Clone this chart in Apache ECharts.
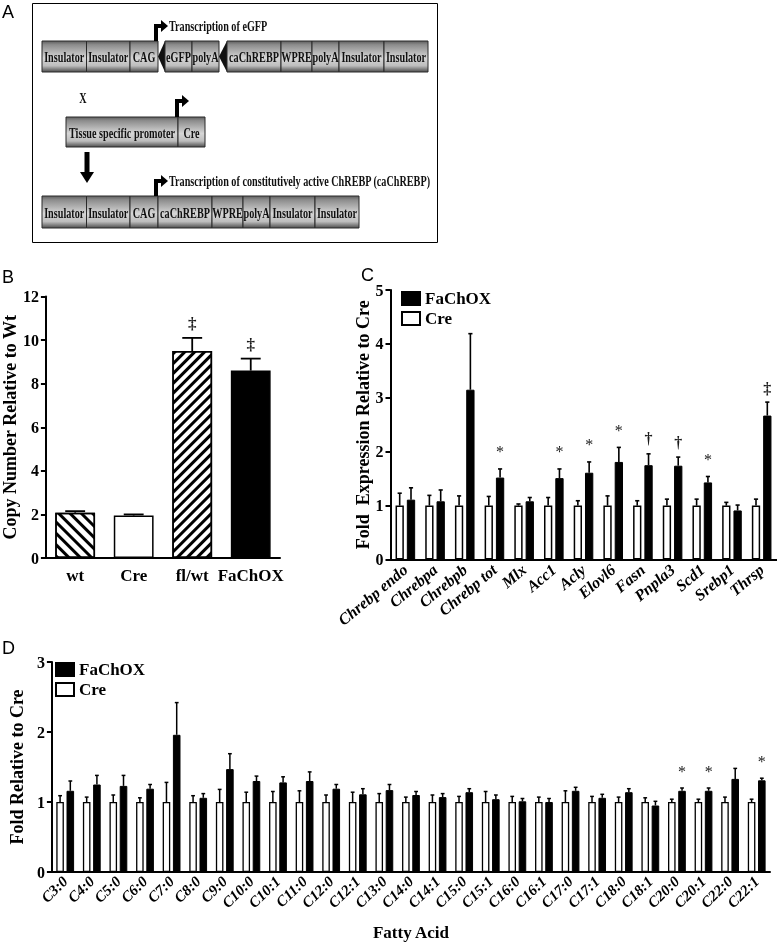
<!DOCTYPE html>
<html>
<head>
<meta charset="utf-8">
<script src="https://cdn.jsdelivr.net/npm/echarts@6/dist/echarts.min.js"></script>
<style>
html,body{margin:0;padding:0;background:#fff;}
#chart{width:777px;height:948px;will-change:transform;}
</style>
</head>
<body>
<div id="chart"></div>
<script>
// ---------------- DATA ----------------
// Panel B: copy number relative to wt
const bGroups = ['wt', 'Cre', 'fl/wt', 'FaChOX'];
const bMean   = [2.08, 1.95, 9.5, 8.6];
const bUpper  = [2.15, 2.0, 10.1, 9.15];   // mean + SEM
const bSig    = ['', '', '‡', '‡'];

// Panel C: fold expression relative to Cre
const cGenes = ['Chrebp endo', 'Chrebpa', 'Chrebpb', 'Chrebp tot', 'Mlx', 'Acc1', 'Acly',
                'Elovl6', 'Fasn', 'Pnpla3', 'Scd1', 'Srebp1', 'Thrsp'];
const cCreMean  = [1, 1, 1, 1, 1, 1, 1, 1, 1, 1, 1, 1, 1];
const cCreUpper = [1.23, 1.19, 1.18, 1.17, 1.03, 1.15, 1.09, 1.18, 1.09, 1.12, 1.12, 1.06, 1.12];
const cFaMean   = [1.11, 1.08, 3.15, 1.52, 1.08, 1.51, 1.61, 1.81, 1.75, 1.74, 1.43, 0.91, 2.67];
const cFaUpper  = [1.33, 1.29, 4.19, 1.68, 1.15, 1.68, 1.81, 2.08, 1.96, 1.90, 1.54, 1.01, 2.92];
const cSig      = ['', '', '', '*', '', '*', '*', '*', '†', '†', '*', '', '‡'];

// Panel D: fatty acids, fold relative to Cre
const dAcids = ['C3:0', 'C4:0', 'C5:0', 'C6:0', 'C7:0', 'C8:0', 'C9:0', 'C10:0', 'C10:1', 'C11:0',
                'C12:0', 'C12:1', 'C13:0', 'C14:0', 'C14:1', 'C15:0', 'C15:1', 'C16:0', 'C16:1',
                'C17:0', 'C17:1', 'C18:0', 'C18:1', 'C20:0', 'C20:1', 'C22:0', 'C22:1'];
const dCreMean  = [1, 1, 1, 1, 1, 1, 1, 1, 1, 1, 1, 1, 1, 1, 1, 1, 1, 1, 1, 1, 1, 1, 1, 1, 1, 1, 1];
const dCreUpper = [1.09, 1.07, 1.10, 1.06, 1.28, 1.09, 1.18, 1.14, 1.15, 1.16, 1.10, 1.14, 1.12, 1.07,
                   1.10, 1.08, 1.15, 1.08, 1.07, 1.16, 1.08, 1.07, 1.06, 1.04, 1.04, 1.07, 1.04];
const dFaMean   = [1.16, 1.25, 1.23, 1.19, 1.96, 1.06, 1.47, 1.30, 1.28, 1.30, 1.19, 1.11, 1.17, 1.10,
                   1.07, 1.14, 1.04, 1.01, 1.00, 1.16, 1.06, 1.14, 0.95, 1.16, 1.16, 1.33, 1.31];
const dFaUpper  = [1.30, 1.38, 1.38, 1.25, 2.42, 1.12, 1.69, 1.37, 1.36, 1.43, 1.25, 1.19, 1.25, 1.15,
                   1.12, 1.19, 1.10, 1.05, 1.05, 1.21, 1.11, 1.19, 1.01, 1.20, 1.20, 1.48, 1.34];
const dSig      = ['', '', '', '', '', '', '', '', '', '', '', '', '', '', '', '', '', '', '', '', '', '', '',
                   '*', '*', '', '*'];

// Panel A schematic labels
const rowTopLabels = ['Insulator', 'Insulator', 'CAG', '◀', 'eGFP', 'polyA', '◀', 'caChREBP', 'WPRE', 'polyA', 'Insulator', 'Insulator'];
const rowMidLabels = ['Tissue specific promoter', 'Cre'];
const rowBotLabels = ['Insulator', 'Insulator', 'CAG', 'caChREBP', 'WPRE', 'polyA', 'Insulator', 'Insulator'];

// ---------------- STYLE / LAYOUT ----------------
const SERIF = "'Liberation Serif','Times New Roman',serif";
const SANS = "'Liberation Sans',Arial,sans-serif";
const rowTopWidths = [44.5, 43.5, 28, 7, 27, 27, 8, 54, 31, 27, 45, 44];
const rowMidWidths = [112, 27];
const rowBotWidths = [44.5, 43.5, 28, 54, 31, 27, 45, 44];

const chart = echarts.init(document.getElementById('chart'), null, {renderer: 'svg'});

function segGradient() {
  return new echarts.graphic.LinearGradient(0, 0, 0, 1, [
    {offset: 0, color: '#5e5e5e'},
    {offset: 0.12, color: '#8c8c8c'},
    {offset: 0.55, color: '#d6d6d6'},
    {offset: 0.8, color: '#bdbdbd'},
    {offset: 1, color: '#4d4d4d'}
  ]);
}
function buildRow(x0, y, h, labels, widths) {
  const els = [];
  let x = x0;
  labels.forEach((lab, i) => {
    const w = widths[i];
    if (lab === '◀') {
      els.push({type: 'polygon', shape: {points: [[x, y + h / 2], [x + w, y], [x + w, y + h]]},
        style: {fill: '#111'}});
    } else {
      els.push({type: 'rect', shape: {x: x, y: y, width: w, height: h},
        style: {fill: segGradient(), stroke: '#2a2a2a', lineWidth: 1}});
      els.push({type: 'text', x: x + w / 2, y: y + h / 2 + 1, scaleX: 0.68,
        style: {text: lab, font: 'bold 15px ' + SERIF, fill: '#111', align: 'center', verticalAlign: 'middle'}, z: 10});
    }
    x += w;
  });
  return els;
}
function bentArrow(x, yBase, yTop) {
  return [
    {type: 'polyline', shape: {points: [[x, yBase], [x, yTop], [x + 5, yTop]]},
      style: {stroke: '#000', lineWidth: 4, fill: null}},
    {type: 'polygon', shape: {points: [[x + 5, yTop - 6], [x + 12, yTop], [x + 5, yTop + 6]]},
      style: {fill: '#000'}}
  ];
}
const aText = (t, x, y, align) => ({type: 'text', x: x, y: y, scaleX: 0.68,
  style: {text: t, font: 'bold 15px ' + SERIF, fill: '#111', align: align || 'left', verticalAlign: 'middle'}});

const graphicEls = [].concat(
  [{type: 'rect', shape: {x: 32.5, y: 3.5, width: 405, height: 239}, style: {fill: null, stroke: '#000', lineWidth: 1}}],
  buildRow(42, 41, 31, rowTopLabels, rowTopWidths),
  bentArrow(156, 41, 26),
  [aText('Transcription of eGFP', 169, 26)],
  [aText('X', 83, 98, 'center')],
  buildRow(66, 117, 30, rowMidLabels, rowMidWidths),
  bentArrow(177, 117, 101),
  [{type: 'polyline', shape: {points: [[87, 152], [87, 173]]}, style: {stroke: '#000', lineWidth: 5}},
   {type: 'polygon', shape: {points: [[80, 172], [94, 172], [87, 183]]}, style: {fill: '#000'}}],
  buildRow(42, 196, 32, rowBotLabels, rowBotWidths),
  bentArrow(156, 196, 181),
  [aText('Transcription of constitutively active ChREBP (caChREBP)', 169, 181)],
  [
    {type: 'text', x: 2, y: 12, style: {text: 'A', font: '18px ' + SANS, fill: '#000', verticalAlign: 'middle'}},
    {type: 'text', x: 2, y: 277, style: {text: 'B', font: '18px ' + SANS, fill: '#000', verticalAlign: 'middle'}},
    {type: 'text', x: 361, y: 275, style: {text: 'C', font: '18px ' + SANS, fill: '#000', verticalAlign: 'middle'}},
    {type: 'text', x: 2, y: 648, style: {text: 'D', font: '18px ' + SANS, fill: '#000', verticalAlign: 'middle'}}
  ]
);

const markLift = {'*': 17, '†': 15, '‡': 14};

function errSeries(axisIdx, cats, mean, upper, sig, shift, barFrac, gapFrac, lw, fs) {
  return {
    type: 'custom', xAxisIndex: axisIdx, yAxisIndex: axisIdx, z: 5, silent: true,
    itemStyle: {color: '#000'},
    data: cats.map((c, i) => [i, mean[i], upper[i]]),
    encode: {x: 0, y: [1, 2]},
    renderItem: function (params, api) {
      const i = api.value(0), m = api.value(1), u = api.value(2);
      const p = api.coord([i, m]), q = api.coord([i, u]);
      const band = api.size([1, 0])[0];
      const bw = band * barFrac, gap = bw * gapFrac;
      const cx = p[0] + shift * (bw + gap) / 2;
      const half = bw * 0.25;
      const ls = {stroke: '#000', lineWidth: lw};
      const children = [
        {type: 'line', shape: {x1: cx, y1: p[1], x2: cx, y2: q[1]}, style: ls},
        {type: 'line', shape: {x1: cx - half, y1: q[1], x2: cx + half, y2: q[1]}, style: ls}
      ];
      const s = sig[params.dataIndex];
      if (s) {
        children.push({type: 'text', x: cx, y: q[1] - markLift[s],
          style: {text: s, fill: '#1a1a1a',
                  font: (s === '*' ? '' : 'bold ') + fs + 'px ' + SERIF, align: 'center', verticalAlign: 'middle'}});
      }
      return {type: 'group', children: children};
    }
  };
}

const axisLineStyle = {color: '#000', width: 2};
const tickLabel = {color: '#000', fontFamily: SERIF, fontWeight: 'bold', fontSize: 16};
function yAxisCfg(idx, max, interval, name, gap) {
  return {
    gridIndex: idx, type: 'value', min: 0, max: max, interval: interval,
    axisLine: {show: true, lineStyle: axisLineStyle},
    axisTick: {show: true, length: 5, lineStyle: {color: '#000', width: 2}},
    splitLine: {show: false},
    axisLabel: Object.assign({margin: 7}, tickLabel),
    name: name, nameLocation: 'middle', nameGap: gap,
    nameTextStyle: {color: '#000', fontFamily: SERIF, fontWeight: 'bold', fontSize: 18}
  };
}

const bStyles = [
  {color: '#fff', borderColor: '#000', borderWidth: 1.5,
   decal: {symbol: 'rect', symbolSize: 1, color: '#000', dashArrayX: [1, 0], dashArrayY: [2.2, 4.8], rotation: Math.PI / 4}},
  {color: '#fff', borderColor: '#000', borderWidth: 1.5},
  {color: '#fff', borderColor: '#000', borderWidth: 1.5,
   decal: {symbol: 'rect', symbolSize: 1, color: '#000', dashArrayX: [1, 0], dashArrayY: [2.2, 3.6], rotation: -Math.PI / 4}},
  {color: '#000', borderColor: '#000', borderWidth: 1.5}
];
const creStyle = {color: '#fff', borderColor: '#000', borderWidth: 1.5};
const faStyle = {color: '#000', borderColor: '#000', borderWidth: 1};

const option = {
  animation: false,
  graphic: {elements: graphicEls},
  legend: [
    {left: 396, top: 285, orient: 'vertical', itemWidth: 18, itemHeight: 13, itemGap: 3, icon: 'rect',
     data: ['FaChOX', 'Cre'], selectedMode: false,
     textStyle: {color: '#000', fontFamily: SERIF, fontWeight: 'bold', fontSize: 17}},
    {left: 50, top: 656, orient: 'vertical', itemWidth: 18, itemHeight: 13, itemGap: 3, icon: 'rect',
     data: ['FaChOX', 'Cre'], selectedMode: false,
     textStyle: {color: '#000', fontFamily: SERIF, fontWeight: 'bold', fontSize: 17}}
  ],
  grid: [
    {left: 45, top: 296.5, width: 235, height: 261.5},
    {left: 390.5, top: 290, width: 386, height: 269.5},
    {left: 41, top: 662, width: 729, height: 210}
  ],
  xAxis: [
    {gridIndex: 0, type: 'category', data: bGroups,
     axisLine: {lineStyle: axisLineStyle}, axisTick: {show: false},
     axisLabel: {color: '#000', fontFamily: SERIF, fontWeight: 'bold', fontSize: 17, margin: 9, interval: 0}},
    {gridIndex: 1, type: 'category', data: cGenes,
     axisLine: {lineStyle: axisLineStyle}, axisTick: {show: false},
     axisLabel: {color: '#000', fontFamily: SERIF, fontWeight: 'bold', fontStyle: 'italic', fontSize: 16,
                 rotate: 40, margin: 8, interval: 0}},
    {gridIndex: 2, type: 'category', data: dAcids,
     axisLine: {lineStyle: axisLineStyle}, axisTick: {show: false},
     axisLabel: {color: '#000', fontFamily: SERIF, fontWeight: 'bold', fontStyle: 'italic', fontSize: 15,
                 rotate: 44, margin: 7, interval: 0},
     name: 'Fatty Acid', nameLocation: 'middle', nameGap: 52,
     nameTextStyle: {color: '#000', fontFamily: SERIF, fontWeight: 'bold', fontSize: 17}}
  ],
  yAxis: [
    yAxisCfg(0, 12, 2, 'Copy Number Relative to Wt', 26),
    yAxisCfg(1, 5, 1, 'Fold  Expression Relative to Cre', 13),
    yAxisCfg(2, 3, 1, 'Fold Relative to Cre', 14)
  ],
  series: [
    {type: 'bar', name: 'Copy', xAxisIndex: 0, yAxisIndex: 0, barWidth: '68%',
     data: bMean.map((v, i) => ({value: v, itemStyle: bStyles[i]}))},
    errSeries(0, bGroups, bMean, bUpper, bSig, 0, 0.68, 0, 1.8, 17),

    {type: 'bar', name: 'Cre', xAxisIndex: 1, yAxisIndex: 1, barWidth: '28%', barGap: '36%',
     itemStyle: creStyle, data: cCreMean},
    {type: 'bar', name: 'FaChOX', xAxisIndex: 1, yAxisIndex: 1, barWidth: '28%', barGap: '36%',
     itemStyle: faStyle, data: cFaMean},
    errSeries(1, cGenes, cCreMean, cCreUpper, cSig.map(() => ''), -1, 0.28, 0.36, 1.6, 16),
    errSeries(1, cGenes, cFaMean, cFaUpper, cSig, 1, 0.28, 0.36, 1.6, 16),

    {type: 'bar', name: 'Cre', xAxisIndex: 2, yAxisIndex: 2, barWidth: '28.5%', barGap: '35%',
     itemStyle: Object.assign({}, creStyle, {borderWidth: 1.3}), data: dCreMean},
    {type: 'bar', name: 'FaChOX', xAxisIndex: 2, yAxisIndex: 2, barWidth: '28.5%', barGap: '35%',
     itemStyle: faStyle, data: dFaMean},
    errSeries(2, dAcids, dCreMean, dCreUpper, dSig.map(() => ''), -1, 0.285, 0.35, 1.5, 16),
    errSeries(2, dAcids, dFaMean, dFaUpper, dSig, 1, 0.285, 0.35, 1.5, 16)
  ]
};
chart.setOption(option);
</script>
</body>
</html>
